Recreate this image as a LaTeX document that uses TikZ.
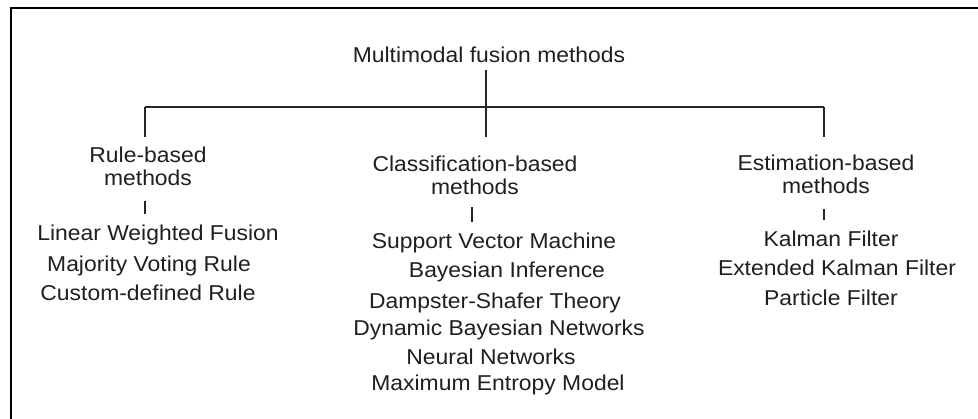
\documentclass[tikz,border=0pt]{standalone}
\usepackage{fontspec}
\setmainfont[FakeStretch=1.065]{Liberation Sans}
\begin{document}
\begin{tikzpicture}[x=1pt,y=-1pt,
  txt/.style={inner sep=0pt,text=black!88,font=\fontsize{21.5}{23}\selectfont},
  item/.style={txt,anchor=base},
  head/.style={txt,align=center,anchor=north},
  link/.style={draw=black!85,line width=1.3pt},
  frame/.style={draw=black,line width=2.2pt}]
\useasboundingbox (0,0) rectangle (978,418);

% outer frame (left and top edges)
\draw[frame] (11,425) -- (11,8) -- (985,8);

% root
\node[item] (t) at (489,62) {Multimodal fusion methods};

% junctions on the horizontal bar
\coordinate (jL) at (145,107);
\coordinate (jM) at (486,107);
\coordinate (jR) at (824,107);

% category headings
\node[head] (Lh) at (148,146.6) {Rule-based\\methods};
\node[head] (Mh) at (475,155.3) {Classification-based\\methods};
\node[head] (Rh) at (826,154.6) {Estimation-based\\methods};

% rule-based methods
\node[item] (L1) at (158,240) {Linear Weighted Fusion};
\node[item] (L2) at (149,271) {Majority Voting Rule};
\node[item] (L3) at (148,300) {Custom-defined Rule};

% classification-based methods
\node[item] (M1) at (494,248) {Support Vector Machine};
\node[item] (M2) at (507,277) {Bayesian Inference};
\node[item] (M3) at (495,308) {Dampster-Shafer Theory};
\node[item] (M4) at (499,335) {Dynamic Bayesian Networks};
\node[item] (M5) at (491,364) {Neural Networks};
\node[item] (M6) at (498,390) {Maximum Entropy Model};

% estimation-based methods
\node[item] (R1) at (831,246) {Kalman Filter};
\node[item] (R2) at (837,275) {Extended Kalman Filter};
\node[item] (R3) at (831,305) {Particle Filter};

% tree connectors
\draw[link,shorten <=8pt] (t.south -| jM) -- (jM);
\draw[link] (jL) -- (jR);
\draw[link,shorten >=9.6pt] (jL) -- (jL |- Lh.north);
\draw[link,shorten >=18.3pt] (jM) -- (jM |- Mh.north);
\draw[link,shorten >=17.6pt] (jR) -- (jR |- Rh.north);

% ticks between headings and method lists
\draw[link,shorten <=15pt,shorten >=10.6pt] (jL |- Lh.south) -- (jL |- L1.north);
\draw[link,shorten <=13pt,shorten >=10.3pt] (472,0 |- Mh.south) -- (472,0 |- M1.north);
\draw[link,shorten <=15pt,shorten >=10.6pt] (jR |- Rh.south) -- (jR |- R1.north);
\end{tikzpicture}
\end{document}
